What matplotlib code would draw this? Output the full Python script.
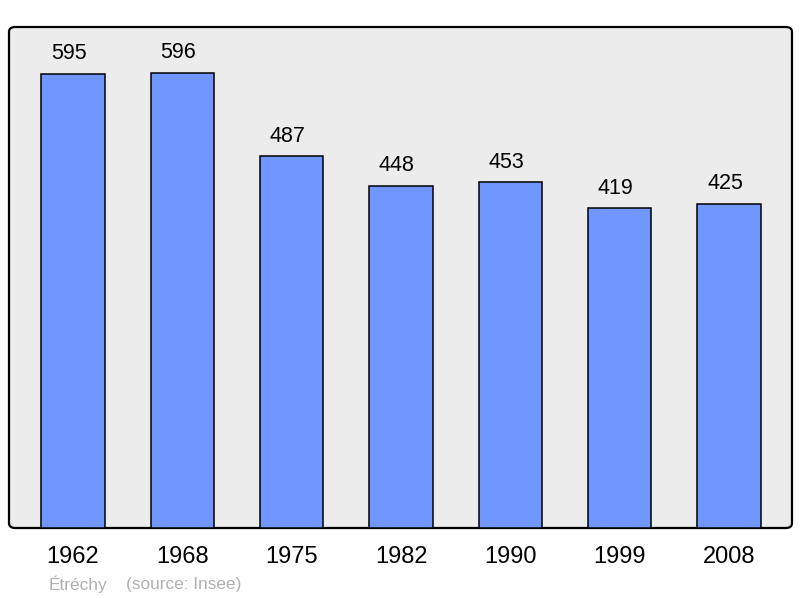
import matplotlib
matplotlib.use("Agg")
import matplotlib.pyplot as plt
from matplotlib.patches import FancyBboxPatch

years = ["1962", "1968", "1975", "1982", "1990", "1999", "2008"]
population = [595, 596, 487, 448, 453, 419, 425]

plt.rcParams['font.family'] = ['Liberation Sans', 'DejaVu Sans']

fig = plt.figure(figsize=(8, 5.98), dpi=100)
L, B, W, H = 9/800, 70/598, 783/800, 501/598
ax = fig.add_axes([L, B, W, H])
ax.set_facecolor('none')
ax.set_zorder(1)
for s in ax.spines.values():
    s.set_visible(False)

frame = FancyBboxPatch((L, B), W, H, boxstyle="round,pad=0,rounding_size=0.008",
                       transform=fig.transFigure, facecolor='#ececec',
                       edgecolor='black', linewidth=1.6, zorder=-1)
fig.patches.append(frame)

x = list(range(len(years)))
ax.bar(x, population, width=0.58, color='#7096ff', edgecolor='black', linewidth=1.1, zorder=2)
for xi, v in zip(x, population):
    ax.annotate(str(v), (xi, v), xytext=(-3, 7), textcoords='offset points',
                ha='center', va='bottom', fontsize=15.5, color='black')

ax.set_xlim(-0.585, 6.575)
ax.set_ylim(0, 656.5)
ax.set_yticks([])
ax.set_xticks(x)
ax.set_xticklabels(years, fontsize=17)
ax.tick_params(axis='x', length=0, pad=13)

fig.text(49/800, 1 - 584/598, "Étréchy", fontsize=12.4, color='#b0b0b0', va='center', ha='left')
fig.text(126/800, 1 - 584/598, "(source: Insee)", fontsize=12.4, color='#b0b0b0', va='center', ha='left')

fig.savefig("out.png", dpi=100)
